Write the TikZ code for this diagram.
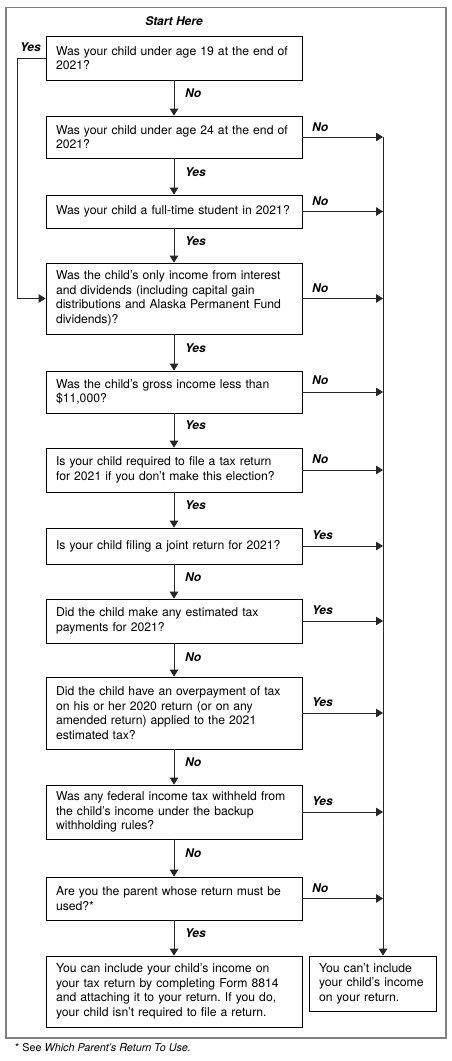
\documentclass[tikz,border=0pt]{standalone}
\usepackage{fontspec}
\setmainfont{TeX Gyre Heros}
\usetikzlibrary{arrows.meta}
\frenchspacing
\begin{document}
\begin{tikzpicture}[x=1pt,y=-1pt,
  qbox/.style={draw, line width=0.8pt, inner xsep=10pt, inner ysep=0pt,
    text width=236pt, align=left, font=\fontsize{12.2pt}{14.6pt}\selectfont},
  lbl/.style={inner sep=0pt, text depth=0pt, font=\fontsize{12pt}{14pt}\selectfont\bfseries\itshape},
  ln/.style={line width=0.8pt, black!85},
  arr/.style={ln, -{Triangle[length=7pt,width=8.5pt]}}
]
\useasboundingbox (0,0) rectangle (452,1061);
\draw[black!50, line width=1.2pt] (6,7.3) rectangle (446,1038);

\node[lbl] (start) at (174,21) {Start Here};
\node[lbl] (ytop) at (30.5,47) {Yes};

\node[qbox, minimum height=44pt] (b1) at (174,58) {Was your child under age 19 at the end of\\2021?};
\node[qbox, minimum height=42pt] (b2) at (174,137) {Was your child under age 24 at the end of\\2021?};
\node[qbox, minimum height=33pt] (b3) at (174,211.5) {Was your child a full-time student in 2021?};
\node[qbox, minimum height=71pt] (b4) at (174,298.5) {Was the child’s only income from interest\\and dividends (including capital gain\\distributions and Alaska Permanent Fund\\dividends)?};
\node[qbox, minimum height=42pt] (b5) at (174,392) {Was the child’s gross income less than\\\$11,000?};
\node[qbox, minimum height=44pt] (b6) at (174,470) {Is your child required to file a tax return\\for 2021 if you don’t make this election?};
\node[qbox, minimum height=36pt] (b7) at (174,546) {Is your child filing a joint return for 2021?};
\node[qbox, minimum height=44pt] (b8) at (174,621) {Did the child make any estimated tax\\payments for 2021?};
\node[qbox, minimum height=72pt] (b9) at (174,713) {Did the child have an overpayment of tax\\on his or her 2020 return (or on any\\amended return) applied to the 2021\\estimated tax?};
\node[qbox, minimum height=54pt] (b10) at (174,812) {Was any federal income tax withheld from\\the child’s income under the backup\\withholding rules?};
\node[qbox, minimum height=43pt] (b11) at (174,898.5) {Are you the parent whose return must be\\used?*};
\node[qbox, minimum height=71pt] (b12) at (174,991.5) {You can include your child’s income on\\your tax return by completing Form 8814\\and attaching it to your return. If you do,\\your child isn’t required to file a return.};
\node[qbox, text width=107pt, minimum height=55pt] (b13) at (372.5,983.5) {You can’t include\\your child’s income\\on your return.};

\coordinate (vx) at (383,0);
\coordinate (lx) at (17,0);

% down arrows
\draw[arr] (b1) -- (b2);
\draw[arr] (b2) -- (b3);
\draw[arr] (b3) -- (b4);
\draw[arr] (b4) -- (b5);
\draw[arr] (b5) -- (b6);
\draw[arr] (b6) -- (b7);
\draw[arr] (b7) -- (b8);
\draw[arr] (b8) -- (b9);
\draw[arr] (b9) -- (b10);
\draw[arr] (b10) -- (b11);
\draw[arr] (b11) -- (b12);

% right arrows
\foreach \b in {b2,b3,b4,b5,b6,b7,b8,b9,b10,b11}
  \draw[arr] (\b.east) -- (\b.east -| vx);
\draw[arr] (b2.east -| vx) -- (b13.north -| vx);

% left loop
\draw[arr] (b1.west) -- (b1.west -| lx) |- (b4.west);

% down labels
\node[lbl, anchor=west] (d1) at (185,93) {No};
\node[lbl, anchor=west] (d2) at (185,172) {Yes};
\node[lbl, anchor=west] (d3) at (185,241) {Yes};
\node[lbl, anchor=west] (d4) at (185,348) {Yes};
\node[lbl, anchor=west] (d5) at (185,425) {Yes};
\node[lbl, anchor=west] (d6) at (185,505) {Yes};
\node[lbl, anchor=west] (d7) at (185,577) {No};
\node[lbl, anchor=west] (d8) at (185,657) {No};
\node[lbl, anchor=west] (d9) at (185,762) {No};
\node[lbl, anchor=west] (d10) at (185,853) {No};
\node[lbl, anchor=west] (d11) at (185,933) {Yes};

% right labels
\node[lbl, anchor=west] (r2) at (312,127) {No};
\node[lbl, anchor=west] (r3) at (312,201) {No};
\node[lbl, anchor=west] (r4) at (312,288) {No};
\node[lbl, anchor=west] (r5) at (312,380) {No};
\node[lbl, anchor=west] (r6) at (312,459) {No};
\node[lbl, anchor=west] (r7) at (312,535) {Yes};
\node[lbl, anchor=west] (r8) at (312,610) {Yes};
\node[lbl, anchor=west] (r9) at (312,702) {Yes};
\node[lbl, anchor=west] (r10) at (312,801) {Yes};
\node[lbl, anchor=west] (r11) at (312,888) {No};

\node[anchor=west, inner sep=0pt, font=\fontsize{10.8pt}{13pt}\selectfont] (fn) at (15,1048) {* See \textit{Which Parent’s Return To Use.}};
\end{tikzpicture}
\end{document}
